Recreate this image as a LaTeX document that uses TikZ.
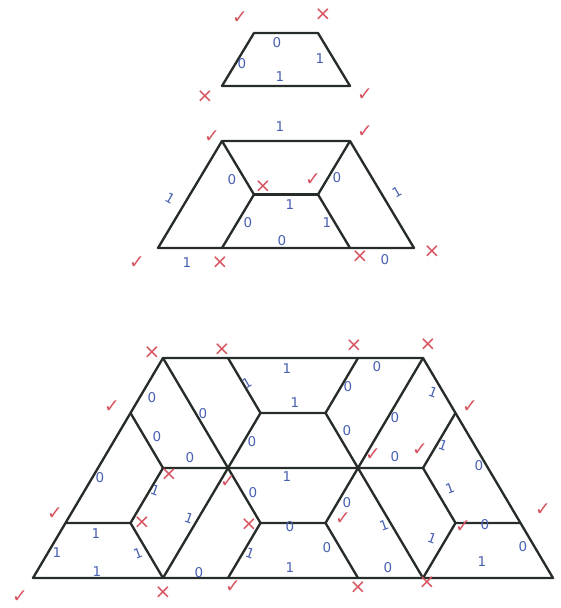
\documentclass[tikz,border=0pt]{standalone}
\usepackage{fontspec}
\setmainfont{DejaVu Sans}
\definecolor{pen}{RGB}{38,44,40}
\definecolor{ink}{RGB}{72,96,178}
\definecolor{tick}{RGB}{214,84,96}
\begin{document}
\begin{tikzpicture}[x=0.3mm,y=-0.3mm,
    edge/.style={line width=2pt,draw=pen,line join=round},
    bit/.style={text=ink,font=\fontsize{11.5}{11.5}\selectfont,inner sep=0pt},
    good/.style={text=tick,font=\fontsize{16}{16}\selectfont,inner sep=0pt},
    bad/.style={text=tick,font=\fontsize{17}{17}\selectfont,inner sep=0pt}]
  \useasboundingbox (0,0) rectangle (561,608);

  \begin{scope}[shift={(222,86)},x=19.2mm,y=15.9mm]
    \coordinate (A) at (0,0); \coordinate (B) at (2,0);
    \coordinate (C) at (1.5,1); \coordinate (D) at (0.5,1);
    \draw[edge] (A)--(B)--(C)--(D)--cycle;
  \end{scope}
  \node[good] (s1) at (240,18) {✓}; \node[bad] (s2) at (323,15) {×};
  \node[bad] (s3) at (205,97) {×}; \node[good] (s4) at (365,95) {✓};
  \node[bit] (s5) at (277,43) {0}; \node[bit] (s6) at (242,64) {0};
  \node[bit] (s7) at (320,59) {1}; \node[bit] (s8) at (280,77) {1};

  \begin{scope}[shift={(158,248)},x=19.2mm,y=16.05mm]
    \coordinate (A) at (0,0); \coordinate (B) at (4,0);
    \coordinate (C) at (3,2); \coordinate (D) at (1,2);
    \coordinate (E) at (1,0); \coordinate (F) at (3,0);
    \coordinate (G) at (1.5,1); \coordinate (H) at (2.5,1);
    \draw[edge] (A)--(B)--(C)--(D)--cycle;
    \draw[edge] (D)--(G)--(E); \draw[edge] (C)--(H)--(F); \draw[edge] (G)--(H);
  \end{scope}
  \node[good] (m1) at (212,137) {✓}; \node[bit] (m2) at (280,127) {1};
  \node[good] (m3) at (365,132) {✓};
  \node[bit] (m4) at (232,180) {0}; \node[bad] (m5) at (263,187) {×};
  \node[good] (m6) at (313,180) {✓}; \node[bit] (m7) at (337,178) {0};
  \node[bit,rotate=-30] (m8) at (170,198) {1}; \node[bit,rotate=30] (m9) at (397,192) {1};
  \node[bit] (m10) at (290,205) {1};
  \node[bit] (m11) at (248,223) {0}; \node[bit] (m12) at (327,223) {1};
  \node[bit] (m13) at (282,241) {0};
  \node[good] (m14) at (137,263) {✓}; \node[bit] (m15) at (187,263) {1};
  \node[bad] (m16) at (220,263) {×}; \node[bad] (m17) at (360,257) {×};
  \node[bit] (m18) at (385,260) {0}; \node[bad] (m19) at (432,252) {×};

  \begin{scope}[shift={(33,578)},x=19.5mm,y=16.5mm]
    \draw[edge] (0,0)--(8,0)--(6,4)--(2,4)--cycle;
    \draw[edge] (2,4)--(3,2) (3,4)--(3.5,3)--(3,2) (5,4)--(4.5,3)--(5,2)
      (6,4)--(5,2) (3.5,3)--(4.5,3);
    \draw[edge] (1.5,3)--(2,2)--(1.5,1)--(2,0) (2,2)--(6,2) (0.5,1)--(1.5,1);
    \draw[edge] (3,2)--(2,0) (3,2)--(3.5,1)--(3,0) (3.5,1)--(4.5,1)
      (5,2)--(4.5,1)--(5,0) (5,2)--(6,0);
    \draw[edge] (6.5,3)--(6,2)--(6.5,1)--(6,0) (6.5,1)--(7.5,1);
  \end{scope}
  \node[bad] (b1) at (152,353) {×}; \node[bad] (b2) at (222,350) {×};
  \node[bad] (b3) at (354,346) {×}; \node[bad] (b4) at (428,345) {×};
  \node[bit] (b5) at (287,369) {1}; \node[bit,rotate=30] (b6) at (247,383) {1};
  \node[bit] (b7) at (377,367) {0}; \node[bit] (b8) at (348,387) {0};
  \node[bit] (b9) at (295,403) {1};
  \node[bit] (b10) at (152,398) {0}; \node[good] (b11) at (112,407) {✓};
  \node[bit] (b12) at (203,414) {0}; \node[bit] (b13) at (157,437) {0};
  \node[bit] (b14) at (252,442) {0}; \node[bit] (b15) at (190,458) {0};
  \node[bit,rotate=-20] (b16) at (433,392) {1}; \node[good] (b17) at (470,407) {✓};
  \node[bit] (b18) at (395,418) {0}; \node[bit] (b19) at (347,431) {0};
  \node[bit,rotate=-20] (b20) at (443,445) {1};
  \node[good] (b21) at (373,455) {✓}; \node[bit] (b22) at (395,457) {0};
  \node[good] (b23) at (420,450) {✓}; \node[bit] (b24) at (479,466) {0};
  \node[bit] (b25) at (100,478) {0}; \node[bad] (b26) at (169,475) {×};
  \node[good] (b27) at (228,482) {✓}; \node[bit] (b28) at (287,477) {1};
  \node[bit,rotate=-20] (b29) at (155,490) {1};
  \node[bit] (b30) at (253,493) {0}; \node[bit] (b31) at (347,503) {0};
  \node[bit,rotate=20] (b32) at (450,488) {1};
  \node[good] (b33) at (55,514) {✓}; \node[bit,rotate=-20] (b34) at (189,518) {1};
  \node[bad] (b35) at (142,523) {×}; \node[bad] (b36) at (249,525) {×};
  \node[bit] (b37) at (290,527) {0}; \node[good] (b38) at (343,519) {✓};
  \node[bit,rotate=20] (b39) at (384,525) {1};
  \node[good] (b40) at (543,510) {✓}; \node[good] (b41) at (463,527) {✓};
  \node[bit] (b42) at (485,525) {0}; \node[bit,rotate=-20] (b43) at (432,538) {1};
  \node[bit] (b44) at (96,534) {1}; \node[bit] (b45) at (57,553) {1};
  \node[bit,rotate=20] (b46) at (138,553) {1}; \node[bit,rotate=-20] (b47) at (250,553) {1};
  \node[bit] (b48) at (327,548) {0}; \node[bit] (b49) at (523,547) {0};
  \node[bit] (b50) at (97,572) {1}; \node[bit] (b51) at (199,573) {0};
  \node[bit] (b52) at (290,568) {1}; \node[bit] (b53) at (388,568) {0};
  \node[bit] (b54) at (482,562) {1};
  \node[good] (b55) at (20,597) {✓}; \node[bad] (b56) at (163,593) {×};
  \node[good] (b57) at (233,587) {✓}; \node[bad] (b58) at (358,588) {×};
  \node[bad] (b59) at (427,583) {×};
\end{tikzpicture}
\end{document}
